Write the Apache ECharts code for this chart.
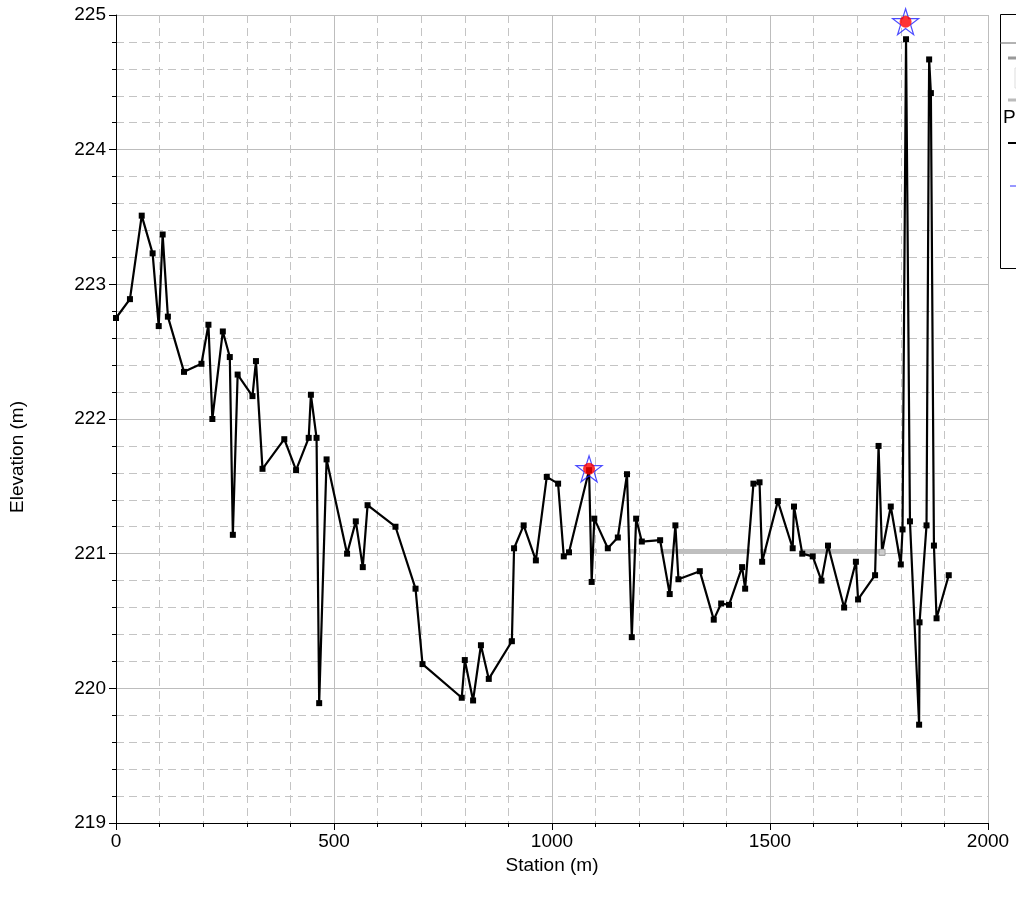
<!DOCTYPE html>
<html>
<head>
<meta charset="utf-8">
<script src="https://cdn.jsdelivr.net/npm/echarts@6/dist/echarts.min.js"></script>
<style>html,body{margin:0;padding:0;background:#fff;}#c{width:1016px;height:904px;}</style>
</head>
<body>
<div id="c"></div>
<script>
// Ground profile
var stations = [0,32,59,84,98,107,119,156,196,212,221,245,261,268,279,313,321,336,386,413,442,447,460,466,483,530,550,566,577,641,687,703,793,800,819,837,855,908,913,935,963,988,1014,1027,1039,1085,1091,1097,1128,1151,1172,1183,1193,1206,1248,1270,1283,1290,1339,1371,1388,1406,1436,1443,1462,1476,1482,1518,1552,1555,1574,1598,1618,1633,1670,1697,1702,1741,1749,1757,1777,1800,1804,1812,1821,1842,1843,1859,1865,1869,1876,1882,1910];
var elevations = [222.75,222.89,223.51,223.23,222.69,223.37,222.76,222.35,222.41,222.70,222.00,222.65,222.46,221.14,222.33,222.17,222.43,221.63,221.85,221.62,221.86,222.18,221.86,219.89,221.70,221.00,221.24,220.90,221.36,221.20,220.74,220.18,219.93,220.21,219.91,220.32,220.07,220.35,221.04,221.21,220.95,221.57,221.52,220.98,221.01,221.62,220.79,221.26,221.04,221.12,221.59,220.38,221.26,221.09,221.10,220.70,221.21,220.81,220.87,220.51,220.63,220.62,220.90,220.74,221.52,221.53,220.94,221.39,221.04,221.35,221.00,220.98,220.80,221.06,220.60,220.94,220.66,220.84,221.80,221.01,221.35,220.92,221.18,224.82,221.24,219.73,220.49,221.21,224.67,224.42,221.06,220.52,220.84];
// Water surface segments (start, end) at a constant level
var wsLevel = 221.02;
var wsStarts = [1087,1174,1248,1477,1569,1791];
var wsEnds   = [1103,1195,1454,1493,1752,1805];
// Hollow marker
var hollowPts = [[1757,221.01]];
// Highlight points
var peakStations = [1085,1811];
var peakElev = [221.63,224.95];
// Axis ticks
var xTicks = [0,500,1000,1500,2000];
var yTicks = [219,220,221,222,223,224,225];

var groundData = stations.map(function(s,i){return [s,elevations[i]];});
var wsData = [];
for (var i=0;i<wsStarts.length;i++){
  wsData.push([wsStarts[i],wsLevel]);
  wsData.push([wsEnds[i],wsLevel]);
  wsData.push([wsEnds[i],'-']);
}
var peakData = peakStations.map(function(s,i){return [s,peakElev[i]];});

var FONT = "'Liberation Sans', Arial, sans-serif";
var FS = 19;
var star = 'path://M50,0 L61.8,35.4 L100,35.4 L69.1,57.3 L80.9,93.1 L50,71.2 L19.1,93.1 L30.9,57.3 L0,35.4 L38.2,35.4 Z';

var chart = echarts.init(document.getElementById('c'), null, {renderer:'canvas'});
chart.setOption({
  animation:false,
  backgroundColor:'#fff',
  grid:{left:116,right:28,top:15,bottom:81,show:false},
  xAxis:{
    type:'value',min:xTicks[0],max:xTicks[xTicks.length-1],interval:500,
    name:'Station (m)',nameLocation:'middle',nameGap:32,
    nameTextStyle:{fontFamily:FONT,fontSize:FS,color:'#000'},
    axisLine:{show:true,onZero:false,lineStyle:{color:'#000',width:1}},
    axisTick:{show:true,length:7,lineStyle:{color:'#000'}},
    minorTick:{show:true,splitNumber:5,length:4,lineStyle:{color:'#000'}},
    axisLabel:{fontFamily:FONT,fontSize:FS,color:'#000',margin:9,formatter:function(v){return String(v);}},
    splitLine:{show:true,lineStyle:{color:'#bdbdbd',width:1}},
    minorSplitLine:{show:true,lineStyle:{color:'#c4c4c4',width:1,type:[8,5]}}
  },
  yAxis:{
    type:'value',min:yTicks[0],max:yTicks[yTicks.length-1],interval:1,
    axisLine:{show:true,onZero:false,lineStyle:{color:'#000',width:1}},
    axisTick:{show:true,length:7,lineStyle:{color:'#000'}},
    minorTick:{show:true,splitNumber:5,length:4,lineStyle:{color:'#000'}},
    axisLabel:{fontFamily:FONT,fontSize:FS,color:'#000',margin:10,formatter:function(v){return String(v);}},
    splitLine:{show:true,lineStyle:{color:'#bdbdbd',width:1}},
    minorSplitLine:{show:true,lineStyle:{color:'#c4c4c4',width:1,type:[8,5]}}
  },
  series:[
    {type:'line',data:wsData,symbol:'none',connectNulls:false,z:2,
     lineStyle:{color:'#bfbfbf',width:4}},
    {type:'line',data:groundData,symbol:'rect',symbolSize:6,z:3,
     lineStyle:{color:'#000',width:2.2},itemStyle:{color:'#000'}},
    {type:'scatter',data:hollowPts,symbol:'rect',symbolSize:6,z:4,
     itemStyle:{color:'#fff',borderColor:'#999',borderWidth:1}},
    {type:'scatter',data:peakData,symbol:star,symbolSize:26,z:5,
     itemStyle:{color:'rgba(0,0,0,0)',borderColor:'#1f1fff',borderWidth:1.2}},
    {type:'scatter',data:peakData,symbol:'circle',symbolSize:12,z:6,
     itemStyle:{color:'#ff0000'}}
  ],
  graphic:[
    {type:'text',x:18,y:457,rotation:Math.PI/2,style:{text:'Elevation (m)',fontFamily:FONT,fontSize:FS,fill:'#000',align:'center',verticalAlign:'middle'},z:11},
    {type:'rect',left:1000,top:14,shape:{x:0,y:0,width:200,height:254},style:{fill:'#fff',stroke:'#000',lineWidth:1},z:10},
    {type:'line',shape:{x1:1000,y1:43,x2:1200,y2:43},style:{stroke:'#666',lineWidth:1},z:11},
    {type:'text',left:1040,top:20,style:{text:'Legend',fontFamily:FONT,fontSize:FS,fill:'#000'},z:11},
    {type:'line',shape:{x1:1008,y1:58,x2:1040,y2:58},style:{stroke:'#999',lineWidth:3},z:11},
    {type:'text',left:1045,top:50,style:{text:'WS PF 1',fontFamily:FONT,fontSize:FS,fill:'#000'},z:11},
    {type:'rect',shape:{x:1015,y:68,width:20,height:20},style:{fill:'none',stroke:'#ddd',lineWidth:1},z:11},
    {type:'line',shape:{x1:1008,y1:100,x2:1040,y2:100},style:{stroke:'#bbb',lineWidth:3},z:11},
    {type:'text',left:1045,top:92,style:{text:'Crit PF 1',fontFamily:FONT,fontSize:FS,fill:'#000'},z:11},
    {type:'text',left:1003,top:108,style:{text:'P  Profile',fontFamily:FONT,fontSize:FS,fill:'#000'},z:11},
    {type:'line',shape:{x1:1008,y1:143,x2:1040,y2:143},style:{stroke:'#000',lineWidth:2},z:11},
    {type:'text',left:1045,top:135,style:{text:'Ground',fontFamily:FONT,fontSize:FS,fill:'#000'},z:11},
    {type:'line',shape:{x1:1010,y1:186,x2:1040,y2:186},style:{stroke:'#3333ff',lineWidth:1},z:11},
    {type:'text',left:1045,top:178,style:{text:'Bank Sta',fontFamily:FONT,fontSize:FS,fill:'#000'},z:11}
  ]
});
</script>
</body>
</html>
